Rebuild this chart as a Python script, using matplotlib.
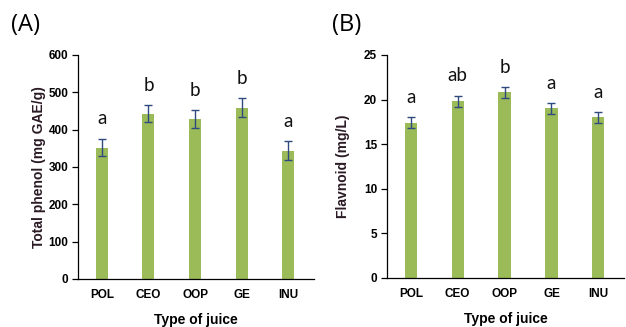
import matplotlib
matplotlib.use("Agg")
import matplotlib.pyplot as plt

categories = ["POL", "CEO", "OOP", "GE", "INU"]
phenol = [352, 443, 428, 459, 344]
phenol_err = [24, 23, 25, 25, 25]
phenol_letters = ["a", "b", "b", "b", "a"]
flavonoid = [17.4, 19.8, 20.8, 19.0, 18.0]
flavonoid_err = [0.6, 0.65, 0.6, 0.62, 0.62]
flavonoid_letters = ["a", "ab", "b", "a", "a"]

BAR = "#9bbb59"
ERR = "#2f4a7f"
LABEL = "#2a1a24"

fig = plt.figure(figsize=(6.26, 3.27), dpi=100)
axA = fig.add_axes([0.1246, 0.147, 0.377, 0.685])
axB = fig.add_axes([0.618, 0.150, 0.379, 0.682])


def panel(ax, vals, errs, letters, ymax, step, ylabel, pad, ylabelpad):
    x = range(len(categories))
    ax.bar(x, vals, width=0.26, color=BAR, zorder=2)
    ax.errorbar(x, vals, yerr=errs, fmt="none", ecolor=ERR, elinewidth=1.0,
                capsize=3, capthick=1.0, zorder=3)
    for xi, v, e, t in zip(x, vals, errs, letters):
        ax.text(xi, v + e + pad, t, ha="center", va="bottom",
                fontsize=13.5, family="Lato", color="#111111")
    ax.set_xlim(-0.51, 4.55)
    ax.set_ylim(0, ymax)
    ax.set_yticks([i * step for i in range(int(ymax / step) + 1)])
    ax.set_xticks(list(x))
    ax.set_xticklabels(categories)
    for s in ("top", "right"):
        ax.spines[s].set_visible(False)
    for s in ("left", "bottom"):
        ax.spines[s].set_linewidth(0.9)
    ax.tick_params(axis="x", length=0, pad=7)
    ax.tick_params(axis="y", length=4, width=0.9, direction="out", pad=3)
    for lab in ax.get_xticklabels() + ax.get_yticklabels():
        lab.set_fontweight("bold")
        lab.set_fontsize(8.5)
        lab.set_family("Liberation Sans")
    ax.set_ylabel(ylabel, fontsize=10, fontweight="bold", family="Liberation Sans",
                  color=LABEL, labelpad=ylabelpad)
    ax.set_xlabel("Type of juice", fontsize=10, fontweight="bold", family="Liberation Sans",
                  labelpad=9)


panel(axA, phenol, phenol_err, phenol_letters, 600, 100, "Total phenol (mg GAE/g)", 30, 2)
panel(axB, flavonoid, flavonoid_err, flavonoid_letters, 25, 5, "Flavnoid (mg/L)", 1.25, 10)

fig.text(0.017, 0.925, "(A)", fontsize=17, family="Open Sans", va="center", ha="left")
fig.text(0.530, 0.925, "(B)", fontsize=17, family="Open Sans", va="center", ha="left")

fig.savefig("out.png", dpi=100)
